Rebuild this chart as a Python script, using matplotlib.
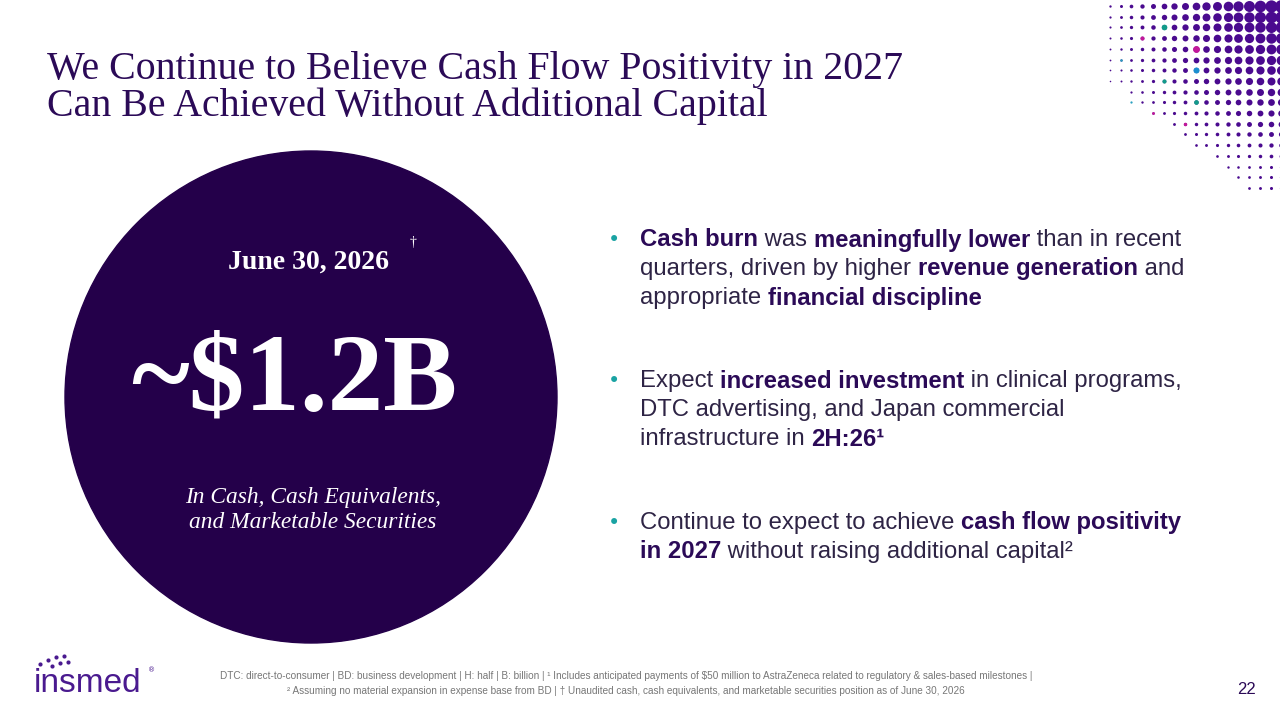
import numpy as np
import matplotlib.pyplot as plt
from matplotlib.patches import Circle

title_lines = ["We Continue to Believe Cash Flow Positivity in 2027",
               "Can Be Achieved Without Additional Capital"]
circle_date = "June 30, 2026"
circle_value = "~$1.2B"
circle_caption = ["In Cash, Cash Equivalents,", "and Marketable Securities"]

bullets = [
    [[("Cash burn", True), (" was ", False), ("meaningfully lower", True), (" than in recent", False)],
     [("quarters, driven by higher ", False), ("revenue generation", True), (" and", False)],
     [("appropriate ", False), ("financial discipline", True)]],
    [[("Expect ", False), ("increased investment", True), (" in clinical programs,", False)],
     [("DTC advertising, and Japan commercial", False)],
     [("infrastructure in ", False), ("2H:26\u00b9", True)]],
    [[("Continue to expect to achieve ", False), ("cash flow positivity", True)],
     [("in 2027", True), (" without raising additional capital\u00b2", False)]],
]
bullet_y = [240, 381, 523]

footnotes = ["DTC: direct-to-consumer | BD: business development | H: half | B: billion | \u00b9 Includes anticipated payments of $50 million to AstraZeneca related to regulatory & sales-based milestones |",
             "\u00b2 Assuming no material expansion in expense base from BD | \u2020 Unaudited cash, cash equivalents, and marketable securities position as of June 30, 2026"]
page_no = "22"

PURPLE = "#24004a"
TITLE = "#2b0a57"
TEXT = "#2e2445"
TEAL = "#1aa3a3"
SERIF = "Liberation Serif"

fig = plt.figure(figsize=(12.8, 7.2), dpi=100)
ax = fig.add_axes([0, 0, 1, 1])
ax.set_xlim(0, 1280)
ax.set_ylim(720, 0)
ax.axis("off")

# title
for i, t in enumerate(title_lines):
    ax.text(47, 69 + i * 37, t, fontsize=28.7, family=SERIF, color=TITLE, va="center")

# corner dot grid
sp = 10.7
def dsize(c, r):
    return (0.5 + 0.14 * c) * max(0.25, 1 - r / 20)

for r in range(18):
    for c in range(17):
        if c * 1.0 < (r - 7) * 1.3:
            continue
        ax.scatter(1110 + c * sp, 6 + r * sp, s=(3.4 * dsize(c, r)) ** 2,
                   color="#4a0a8f", lw=0, zorder=2)
specials = [(5, 2, "#129b8a"), (3, 3, "#c2189a"), (8, 4, "#c2189a"), (8, 6, "#1a8fd0"),
            (5, 7, "#129b8a"), (8, 9, "#129b8a"), (1, 5, "#2aa0c0"), (2, 9, "#2aa0c0"),
            (4, 10, "#c2189a"), (7, 11, "#c2189a")]
for c, r, col in specials:
    ax.scatter(1110 + c * sp, 6 + r * sp, s=(3.8 * dsize(c, r)) ** 2, color=col, lw=0, zorder=3)

# circle
ax.add_patch(Circle((311, 397), 246, color=PURPLE, zorder=1))
ax.text(308, 262, circle_date, fontsize=20, family=SERIF, weight="bold",
        color="white", ha="center", va="center", zorder=4)
ax.text(410, 246, "\u2020", fontsize=10, color="white", family=SERIF, zorder=4)
ax.text(294, 382, circle_value, fontsize=80, family=SERIF, weight="bold",
        color="white", ha="center", va="center", zorder=4)
for i, t in enumerate(circle_caption):
    ax.text(313, 497 + i * 26, t, fontsize=16.8, family=SERIF, style="italic",
            color="white", ha="center", va="center", zorder=4)

# bullets
fig.canvas.draw()
ren = fig.canvas.get_renderer()
for lines, y0 in zip(bullets, bullet_y):
    ax.text(608, y0, "\u2022", fontsize=15, color=TEAL, va="center")
    for j, line in enumerate(lines):
        x = 640
        y = y0 + j * 29
        for txt, bold in line:
            t = ax.text(x, y, txt, fontsize=17.2, family="Liberation Sans",
                        weight="bold" if bold else "normal",
                        color=TITLE if bold else TEXT, va="center")
            x += t.get_window_extent(ren).width

# footer
for i, t in enumerate(footnotes):
    ax.text(626, 676 + i * 15, t, fontsize=7.2, family="Liberation Sans", color="#777777",
            ha="center", va="center")
ax.text(1256, 690, page_no, fontsize=12, family="Liberation Sans", color=TITLE, ha="right", va="center")
ax.text(34, 684, "insmed", fontsize=24, family="Liberation Sans", color="#4a1a8f", va="center")
for dx, dy in [(40, 664), (48, 660), (56, 657), (64, 656), (52, 666), (60, 663), (68, 662)]:
    ax.scatter(dx, dy, s=9, color="#4a1a8f", lw=0)
ax.text(148, 672, "\u00ae", fontsize=5, color="#4a1a8f")

fig.savefig("out.png", dpi=100)
